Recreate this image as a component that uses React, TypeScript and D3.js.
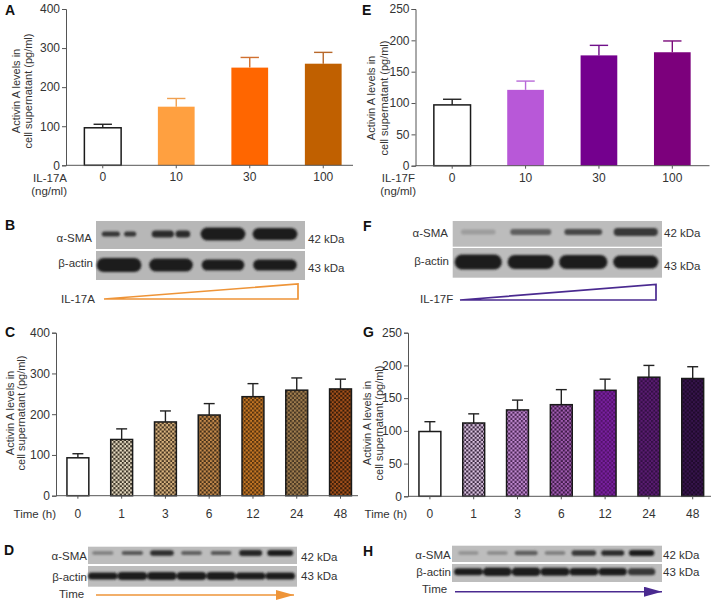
import React, { useEffect, useRef } from "react";
import * as d3 from "d3";

const doseCategories = ["0", "10", "30", "100"];
const timeCategories = ["0", "1", "3", "6", "12", "24", "48"];

const valuesA = [96, 150, 250, 260];
const errorTopsA = [105, 171, 276, 289];
const fillsA = ["#ffffff", "#ffa040", "#ff6600", "#c06000"];
const errorColorsA = ["#222222", "#f0a050", "#d07030", "#b8682a"];

const valuesE = [97, 121, 176, 181];
const errorTopsE = [106, 135, 192, 199];
const fillsE = ["#ffffff", "#b858d8", "#74008e", "#7c007c"];
const errorColorsE = ["#222222", "#b868d8", "#70108a", "#7a0a7a"];

const valuesC = [93, 138, 181, 198, 243, 259, 262];
const errorTopsC = [103, 164, 208, 226, 275, 289, 286];
const checkerC: [string, string][] = [
  ["#ffffff", "#ffffff"],
  ["#e8dcc2", "#3a3326"],
  ["#dcb680", "#483622"],
  ["#c88c4c", "#44301a"],
  ["#c87824", "#54320f"],
  ["#a4804f", "#443422"],
  ["#a9521a", "#361c0a"],
];

const valuesG = [99, 112, 132, 140, 162, 182, 180];
const errorTopsG = [114, 126, 147, 163, 179, 200, 198];
const checkerG: [string, string][] = [
  ["#ffffff", "#ffffff"],
  ["#dcc4e2", "#3a2840"],
  ["#c28ad2", "#4a2654"],
  ["#a35eb4", "#3e1a46"],
  ["#7a20a2", "#521268"],
  ["#5c1c74", "#320f42"],
  ["#38144e", "#1e0a2a"],
];

// Western-blot band readings per lane: width (share of lane), thickness (px), darkness (0-1), gap in band (share of band)
const smaWidthB = [0.66, 0.74, 0.86, 0.86];
const smaThickB = [5, 7, 13, 12];
const smaDarkB = [0.85, 0.92, 1, 1];
const smaGapB = [0.12, 0.04, 0, 0];
const actinWidthB = [0.86, 0.84, 0.82, 0.84];
const actinThickB = [14, 13, 11, 11];
const actinDarkB = [1, 1, 1, 1];

const smaWidthF = [0.66, 0.78, 0.72, 0.84];
const smaThickF = [5, 6, 6, 8];
const smaDarkF = [0.2, 0.6, 0.75, 0.85];
const actinWidthF = [0.9, 0.88, 0.92, 0.86];
const actinThickF = [15, 14, 14, 13];
const actinDarkF = [1, 1, 1, 1];

const smaWidthD = [0.72, 0.72, 0.8, 0.7, 0.7, 0.78, 0.88];
const smaThickD = [3.5, 4, 5.5, 4, 4, 6, 6];
const smaDarkD = [0.4, 0.65, 0.9, 0.6, 0.65, 0.95, 1];
const actinWidthD = [1, 1, 1, 1, 1, 1, 1];
const actinThickD = [7, 8, 8, 8, 8, 7, 7];
const actinDarkD = [1, 1, 1, 1, 1, 1, 1];

const smaWidthH = [0.7, 0.72, 0.8, 0.72, 0.85, 0.8, 0.88];
const smaThickH = [3.5, 3.5, 4.5, 3.5, 5.5, 5.5, 6];
const smaDarkH = [0.28, 0.32, 0.6, 0.42, 0.85, 0.92, 1];
const actinWidthH = [1, 1, 1, 1, 1, 0.98, 0.95];
const actinThickH = [7, 8.5, 8.5, 8, 7.5, 7.5, 7];
const actinDarkH = [1, 1, 1, 1, 1, 1, 0.85];

const FONT = "'Liberation Sans', Arial, sans-serif";
const TEXT = "#333333";

type BarProps = {
  id: string;
  categories: string[];
  values: number[];
  errorTops: number[];
  fills: string[];
  errorColors?: string[];
  yMax: number;
  yTicks: number[];
  x0: number;
  x1: number;
  axisEnd: number;
  yBase: number;
  yTop: number;
  labelY: number;
  titleX: [number, number];
  titleCy: number;
};

function BarPanel(p: BarProps) {
  const axisRef = useRef<SVGGElement>(null);
  const xRef = useRef<SVGGElement>(null);
  const x = d3.scaleBand<string>().domain(p.categories).range([p.x0, p.x1]).paddingInner(0.5).paddingOuter(0.25);
  const y = d3.scaleLinear().domain([0, p.yMax]).range([p.yBase, p.yTop]);

  useEffect(() => {
    const ya = d3.axisLeft(y).tickValues(p.yTicks).tickSize(4).tickPadding(2).tickFormat(d3.format("d") as any);
    const g = d3.select(axisRef.current!).attr("transform", `translate(${p.x0},0)`).call(ya as any);
    g.selectAll("path").attr("stroke", "#555").attr("stroke-width", 1);
    g.selectAll("line").attr("stroke", "#555");
    g.selectAll("text").attr("font-size", 12).attr("font-family", FONT).attr("fill", TEXT);

    const xa = d3.axisBottom(x).tickSize(3).tickFormat(() => "");
    const gx = d3.select(xRef.current!).attr("transform", `translate(0,${p.yBase})`).call(xa as any);
    gx.selectAll("path").remove();
    gx.selectAll("line").attr("stroke", "#555");
    d3.select(xRef.current!).selectAll("line.base").data([0]).join("line").attr("class", "base")
      .attr("x1", p.x0).attr("x2", p.axisEnd).attr("stroke", "#555");
  }, []);

  const bw = x.bandwidth();
  return (
    <g>
      {p.categories.map((c, i) => {
        const cx = x(c)! + bw / 2;
        const white = p.fills[i] === "#ffffff";
        const stroked = white || p.fills[i].startsWith("url");
        const ec = p.errorColors ? p.errorColors[i] : "#222222";
        return (
          <g key={c}>
            <line x1={cx} x2={cx} y1={y(p.values[i])} y2={y(p.errorTops[i])} stroke={ec} strokeWidth={1.4} />
            <line x1={cx - bw / 4} x2={cx + bw / 4} y1={y(p.errorTops[i])} y2={y(p.errorTops[i])} stroke={ec} strokeWidth={1.4} />
            <rect
              x={x(c)!}
              y={y(p.values[i])}
              width={bw}
              height={y(0) - y(p.values[i])}
              fill={p.fills[i]}
              stroke={stroked ? "#1a1a1a" : "none"}
              strokeWidth={stroked ? 1.5 : 0}
            />
            <text x={cx} y={p.labelY} textAnchor="middle" fontSize={12} fontFamily={FONT} fill={TEXT}>{c}</text>
          </g>
        );
      })}
      <g ref={axisRef} />
      <g ref={xRef} />
      <text transform={`translate(${p.titleX[0]},${p.titleCy}) rotate(-90)`} textAnchor="middle" fontSize={11} fontFamily={FONT} fill={TEXT}>Activin A levels in</text>
      <text transform={`translate(${p.titleX[1]},${p.titleCy}) rotate(-90)`} textAnchor="middle" fontSize={11} fontFamily={FONT} fill={TEXT}>cell supernatant (pg/ml)</text>
    </g>
  );
}

type BlotRow = { top: number; bottom: number; cy: number; widths: number[]; thick: number[]; dark: number[]; gaps?: number[] };

function Blot(p: { x0: number; x1: number; laneX0: number; laneX1: number; bg: string; rows: BlotRow[] }) {
  const lanes = d3.range(p.rows[0].widths.length);
  const x = d3.scaleBand<number>().domain(lanes).range([p.laneX0, p.laneX1]);
  const shade = d3.scaleLinear<string>().domain([0, 1]).range([p.bg, "#1f1f1f"]);
  return (
    <g>
      {p.rows.map((r, ri) => (
        <g key={ri}>
          <rect x={p.x0} y={r.top} width={p.x1 - p.x0} height={r.bottom - r.top} fill={p.bg} />
          <g filter="url(#soft)">
            {lanes.map((l) => {
              const w = x.bandwidth() * r.widths[l];
              const left = x(l)! + (x.bandwidth() - w) / 2;
              const gap = (r.gaps ? r.gaps[l] : 0) * w;
              const h = r.thick[l];
              const common = { y: r.cy - h / 2, height: h, rx: h / 2, fill: shade(r.dark[l]) };
              if (gap > 0) {
                const seg = (w - gap) * 0.5;
                return (
                  <g key={l}>
                    <rect x={left} width={seg * 1.2} {...common} />
                    <rect x={left + seg * 1.2 + gap} width={seg * 0.8} {...common} />
                  </g>
                );
              }
              return <rect key={l} x={left} width={w} {...common} />;
            })}
          </g>
        </g>
      ))}
    </g>
  );
}

function T(p: { x: number; y: number; a?: "start" | "end" | "middle"; s?: number; b?: boolean; c?: string; children: React.ReactNode }) {
  return (
    <text x={p.x} y={p.y} textAnchor={p.a ?? "start"} fontSize={p.s ?? 11.5} fontWeight={p.b ? 700 : 400} fontFamily={FONT} fill={p.c ?? TEXT}>
      {p.children}
    </text>
  );
}

export default function App() {
  const tri = d3.line();
  const ORANGE = "#ee9438";
  const PURPLE = "#4a2a90";
  const patterned = (id: string, pairs: [string, string][]) =>
    pairs.map((_, i) => (i === 0 ? "#ffffff" : `url(#${id}${i})`));

  return (
    <svg width={716} height={604} style={{ position: "absolute", left: 0, top: 0, background: "#fff" }}>
      <defs>
        <filter id="soft" x="-10%" y="-60%" width="120%" height="220%">
          <feGaussianBlur stdDeviation="1.1" />
        </filter>
        {[["c", checkerC], ["g", checkerG]].map(([id, pairs]: any) =>
          pairs.map((pr: [string, string], i: number) => (
            <pattern key={id + i} id={`${id}${i}`} width={4.2} height={4.2} patternUnits="userSpaceOnUse">
              <rect width={4.2} height={4.2} fill={pr[0]} />
              <rect width={2.1} height={2.1} fill={pr[1]} />
              <rect x={2.1} y={2.1} width={2.1} height={2.1} fill={pr[1]} />
            </pattern>
          ))
        )}
        <marker id="arrowO" markerUnits="userSpaceOnUse" markerWidth={18} markerHeight={10} refX={18} refY={5} orient="auto">
          <path d="M0,0L18,5L0,10Z" fill={ORANGE} />
        </marker>
        <marker id="arrowP" markerUnits="userSpaceOnUse" markerWidth={18} markerHeight={10} refX={18} refY={5} orient="auto">
          <path d="M0,0L18,5L0,10Z" fill={PURPLE} />
        </marker>
      </defs>

      {/* A */}
      <T x={5} y={14.5} s={14} b c="#111">A</T>
      <BarPanel id="A" categories={doseCategories} values={valuesA} errorTops={errorTopsA} fills={fillsA} errorColors={errorColorsA}
        yMax={400} yTicks={[0, 100, 200, 300, 400]} x0={66} x1={360} axisEnd={353} yBase={165.3} yTop={9} labelY={181} titleX={[20, 32]} titleCy={91} />
      <T x={67} y={182} a="end">IL-17A</T>
      <T x={67} y={195} a="end">(ng/ml)</T>

      {/* E */}
      <T x={362} y={14.5} s={14} b c="#111">E</T>
      <BarPanel id="E" categories={doseCategories} values={valuesE} errorTops={errorTopsE} fills={fillsE} errorColors={errorColorsE}
        yMax={250} yTicks={[0, 50, 100, 150, 200, 250]} x0={415.5} x1={709} axisEnd={709.5} yBase={165.7} yTop={9} labelY={182} titleX={[375, 388]} titleCy={98} />
      <T x={415} y={182} a="end">IL-17F</T>
      <T x={416} y={195} a="end">(ng/ml)</T>

      {/* C */}
      <T x={5} y={337} s={14} b c="#111">C</T>
      <BarPanel id="C" categories={timeCategories} values={valuesC} errorTops={errorTopsC} fills={patterned("c", checkerC)}
        yMax={400} yTicks={[0, 100, 200, 300, 400]} x0={56} x1={362.4} axisEnd={358} yBase={495.7} yTop={332.7} labelY={518} titleX={[13.5, 24.5]} titleCy={413} />
      <T x={56} y={518} a="end">Time (h)</T>

      {/* G */}
      <T x={363} y={337} s={14} b c="#111">G</T>
      <BarPanel id="G" categories={timeCategories} values={valuesG} errorTops={errorTopsG} fills={patterned("g", checkerG)}
        yMax={250} yTicks={[0, 50, 100, 150, 200, 250]} x0={408} x1={714.6} axisEnd={711} yBase={496.3} yTop={332.7} labelY={518} titleX={[371, 383]} titleCy={423} />
      <T x={407} y={518} a="end">Time (h)</T>

      {/* B */}
      <T x={5} y={230} s={14} b c="#111">B</T>
      <Blot x0={96} x1={305} laneX0={93} laneX1={301} bg="#b7b7b7" rows={[
        { top: 221, bottom: 249, cy: 234, widths: smaWidthB, thick: smaThickB, dark: smaDarkB, gaps: smaGapB },
        { top: 251, bottom: 280, cy: 265, widths: actinWidthB, thick: actinThickB, dark: actinDarkB },
      ]} />
      <T x={92} y={241.5} a="end">α-SMA</T>
      <T x={93} y={266.5} a="end">β-actin</T>
      <T x={308} y={243}>42 kDa</T>
      <T x={308} y={272}>43 kDa</T>
      <T x={61} y={303}>IL-17A</T>
      <path d={tri([[104, 299], [298, 284], [298, 299]])! + "Z"} fill="none" stroke={ORANGE} strokeWidth={1.7} />

      {/* F */}
      <T x={363} y={230.5} s={14} b c="#111">F</T>
      <Blot x0={452.7} x1={662} laneX0={452} laneX1={662} bg="#bcbcbc" rows={[
        { top: 221, bottom: 246.7, cy: 232, widths: smaWidthF, thick: smaThickF, dark: smaDarkF },
        { top: 248, bottom: 277.7, cy: 262, widths: actinWidthF, thick: actinThickF, dark: actinDarkF },
      ]} />
      <T x={448} y={237} a="end">α-SMA</T>
      <T x={449} y={265} a="end">β-actin</T>
      <T x={664} y={237}>42 kDa</T>
      <T x={664} y={270}>43 kDa</T>
      <T x={420} y={303}>IL-17F</T>
      <path d={tri([[460, 300], [656, 284.5], [656, 300]])! + "Z"} fill="none" stroke={PURPLE} strokeWidth={1.7} />

      {/* D */}
      <T x={4} y={555} s={14} b c="#111">D</T>
      <Blot x0={88} x1={297} laneX0={88} laneX1={295} bg="#bdbdbd" rows={[
        { top: 546.7, bottom: 564, cy: 553, widths: smaWidthD, thick: smaThickD, dark: smaDarkD },
        { top: 566, bottom: 586.7, cy: 576, widths: actinWidthD, thick: actinThickD, dark: actinDarkD },
      ]} />
      <T x={87} y={560} a="end">α-SMA</T>
      <T x={87} y={580.5} a="end">β-actin</T>
      <T x={301} y={561}>42 kDa</T>
      <T x={301} y={580}>43 kDa</T>
      <T x={59} y={597.5}>Time</T>
      <line x1={96} x2={294} y1={595} y2={595} stroke={ORANGE} strokeWidth={1.6} markerEnd="url(#arrowO)" />

      {/* H */}
      <T x={363} y={556} s={14} b c="#111">H</T>
      <Blot x0={452} x1={662} laneX0={454} laneX1={656} bg="#bdbdbd" rows={[
        { top: 545.7, bottom: 562, cy: 553, widths: smaWidthH, thick: smaThickH, dark: smaDarkH },
        { top: 564, bottom: 582, cy: 571.7, widths: actinWidthH, thick: actinThickH, dark: actinDarkH },
      ]} />
      <T x={450.7} y={559} a="end">α-SMA</T>
      <T x={451} y={576} a="end">β-actin</T>
      <T x={663} y={558.7}>42 kDa</T>
      <T x={663} y={576}>43 kDa</T>
      <T x={422} y={593}>Time</T>
      <line x1={455} x2={662} y1={591.7} y2={591.7} stroke={PURPLE} strokeWidth={1.6} markerEnd="url(#arrowP)" />
    </svg>
  );
}
